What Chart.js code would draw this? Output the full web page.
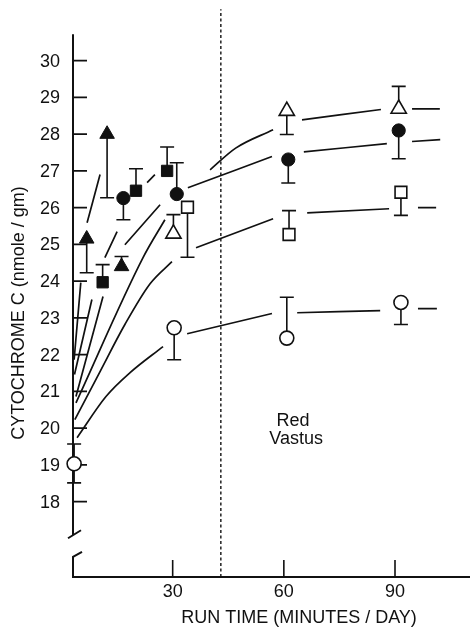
<!DOCTYPE html>
<html>
<head>
<meta charset="utf-8">
<script src="https://cdn.jsdelivr.net/npm/chart.js@4.4.1/dist/chart.umd.min.js"></script>
<style>
  html, body { margin: 0; padding: 0; background: #fff; }
  canvas { display: block; }
</style>
</head>
<body>
<canvas id="chart" width="470" height="631"></canvas>
<script>
// axis ticks
const yTicks = [18, 19, 20, 21, 22, 23, 24, 25, 26, 27, 28, 29, 30];
const xTicks = [30, 60, 90];
const dividerX = 43;

// measured points (minutes/day, nmole/gm) and error bar ends
const ftX = [6.8, 12.3, 16.2];            // filled triangles
const ftY = [25.15, 28.0, 24.4];
const ftLo = [24.23, 26.27, null];
const ftHi = [null, null, 24.67];

const fsX = [11.1, 20.1, 28.5];           // filled squares
const fsY = [23.97, 26.46, 27.0];
const fsLo = [null, null, null];
const fsHi = [24.45, 27.06, 27.65];

const fcX = [16.7, 31.1, 61.2, 91.0];     // filled circles
const fcY = [26.26, 26.37, 27.31, 28.10];
const fcLo = [25.67, null, 26.67, 27.33];
const fcHi = [null, 27.22, null, null];

const otX = [30.2, 60.8, 91.0];           // open triangles
const otY = [25.29, 28.63, 28.69];
const otLo = [null, 27.99, null];
const otHi = [25.81, null, 29.30];

const osX = [34.0, 61.4, 91.6];           // open squares
const osY = [26.01, 25.27, 26.42];
const osLo = [24.65, null, 25.79];
const osHi = [null, 25.92, null];

const ocX = [3.4, 30.4, 60.8, 91.6];      // open circles
const ocY = [19.03, 22.73, 22.45, 23.42];
const ocLo = [18.51, 21.86, null, 22.82];
const ocHi = [19.57, null, 23.56, null];

// fitted curves (null = gap round a symbol)
const ftCurveX = [3.4, 5.2, 6.0, 6.9, 10.4];
const ftCurveY = [21.86, 23.96, null, 25.59, 26.90];

const fsCurveX = [3.5, 8.2, 10.0, 11.7, 15.0, 19.0, 23.1, 25.2];
const fsCurveY = [21.46, 23.50, null, 24.64, 25.35, null, 26.68, 26.90];

const fcCurveX = [3.9, 11.2, 14.0, 17.1, 26.6, 31.0, 34.1, 56.8, 61.0, 65.4, 87.8, 91.0, 94.6, 102.2];
const fcCurveY = [20.86, 23.58, null, 24.99, 26.08, null, 26.54, 27.39, null, 27.52, 27.74, null, 27.80, 27.85];

const otCurveX = [3.9, 22.0, 27.9, 34.0, 40.1, 47.0, 57.1, 61.0, 64.9, 86.2, 91.0, 94.6, 102.1];
const otCurveY = [20.69, 24.64, 25.67, null, 27.03, 27.62, 28.12, null, 28.39, 28.67, null, 28.69, 28.69];

const osCurveX = [3.6, 10.4, 17.1, 23.9, 29.8, 33.0, 36.3, 57.1, 61.5, 66.3, 88.4, 92.0, 96.2, 101.1];
const osCurveY = [20.23, 21.54, 22.82, 23.93, 24.53, null, 24.91, 25.70, null, 25.86, 25.97, null, 26.0, 26.0];

const ocCurveX = [4.2, 12.0, 18.5, 27.4, 30.5, 33.9, 56.8, 60.0, 63.6, 86.0, 91.0, 96.2, 101.3];
const ocCurveY = [19.74, 20.86, 21.51, 22.22, null, 22.57, 23.12, null, 23.14, 23.20, null, 23.25, 23.25];

const ink = '#111';
const font = '18px "Liberation Sans", Arial, sans-serif';

const pts = (xs, ys) => xs.map((x, i) => ({x: x, y: ys[i]}));

const groups = [
  {x: ftX, y: ftY, lo: ftLo, hi: ftHi, style: 'triangle', r: 8.4, open: false},
  {x: fsX, y: fsY, lo: fsLo, hi: fsHi, style: 'rect', r: 8.0, open: false},
  {x: fcX, y: fcY, lo: fcLo, hi: fcHi, style: 'circle', r: 6.6, open: false},
  {x: otX, y: otY, lo: otLo, hi: otHi, style: 'triangle', r: 8.8, open: true},
  {x: osX, y: osY, lo: osLo, hi: osHi, style: 'rect', r: 8.3, open: true},
  {x: ocX, y: ocY, lo: ocLo, hi: ocHi, style: 'circle', r: 7.0, open: true},
];

const curves = [
  [ftCurveX, ftCurveY], [fsCurveX, fsCurveY], [fcCurveX, fcCurveY],
  [otCurveX, otCurveY], [osCurveX, osCurveY], [ocCurveX, ocCurveY],
];

const markerSets = groups.map(g => ({
  data: pts(g.x, g.y),
  showLine: false,
  clip: false,
  pointStyle: g.style,
  pointRadius: g.r,
  pointBackgroundColor: g.open ? '#fff' : ink,
  pointBorderColor: ink,
  pointBorderWidth: g.open ? 1.6 : 1,
}));

const curveSets = curves.map(c => ({
  data: pts(c[0], c[1]),
  showLine: true,
  spanGaps: false,
  pointRadius: 0,
  borderColor: ink,
  borderWidth: 1.7,
  cubicInterpolationMode: 'monotone',
}));

const dividerSet = {
  data: [{x: dividerX, y: 15.95}, {x: dividerX, y: 31.4}],
  showLine: true,
  pointRadius: 0,
  borderColor: ink,
  borderWidth: 1.4,
  borderDash: [3, 2.5],
  clip: false,
};

// axes with inward ticks and a break in the y axis, plus titles
const frame = {
  id: 'frame',
  beforeDatasetsDraw(chart) {
    const {ctx, chartArea: a, scales: {x, y}} = chart;
    ctx.save();
    ctx.strokeStyle = ink;
    ctx.fillStyle = ink;
    ctx.lineCap = 'butt';

    const yTop = y.getPixelForValue(30.72);
    const yb1 = y.getPixelForValue(17.1);
    const yb2 = y.getPixelForValue(16.55);
    ctx.lineWidth = 2;
    ctx.beginPath();
    ctx.moveTo(a.left, yTop);
    ctx.lineTo(a.left, yb1);
    ctx.moveTo(a.left - 5, yb1 + 3.5);
    ctx.lineTo(a.left + 8, yb1 - 4.5);
    ctx.moveTo(a.left + 9, yb2 - 3);
    ctx.lineTo(a.left, yb2 + 2);
    ctx.lineTo(a.left, a.bottom);
    ctx.lineTo(a.right, a.bottom);
    ctx.stroke();

    ctx.lineWidth = 1.6;
    ctx.beginPath();
    yTicks.forEach(v => {
      const py = y.getPixelForValue(v);
      ctx.moveTo(a.left, py);
      ctx.lineTo(a.left + 14, py);
    });
    xTicks.forEach(v => {
      const px = x.getPixelForValue(v);
      ctx.moveTo(px, a.bottom);
      ctx.lineTo(px, a.bottom - 17);
    });
    ctx.stroke();

    ctx.font = font;
    ctx.textBaseline = 'middle';
    ctx.textAlign = 'right';
    yTicks.forEach(v => ctx.fillText(String(v), a.left - 13, y.getPixelForValue(v) + 1));
    ctx.textAlign = 'center';
    xTicks.forEach(v => ctx.fillText(String(v), x.getPixelForValue(v), a.bottom + 15));

    ctx.fillText('RUN TIME (MINUTES / DAY)', 299, 618);
    ctx.fillText('Red', x.getPixelForValue(62.5), y.getPixelForValue(20.2));
    ctx.fillText('Vastus', x.getPixelForValue(62.5) + 3, y.getPixelForValue(20.2) + 18.5);

    ctx.translate(19, 313);
    ctx.rotate(-Math.PI / 2);
    ctx.fillText('CYTOCHROME C (nmole / gm)', 0, 0);
    ctx.restore();
  }
};

// one-sided (and one two-sided) error bars with caps
const errorBars = {
  id: 'errorBars',
  beforeDatasetsDraw(chart) {
    const {ctx, scales: {x, y}} = chart;
    ctx.save();
    ctx.strokeStyle = ink;
    ctx.lineWidth = 1.6;
    groups.forEach(g => {
      g.x.forEach((xv, i) => {
        const px = x.getPixelForValue(xv);
        const py = y.getPixelForValue(g.y[i]);
        [g.lo[i], g.hi[i]].forEach(end => {
          if (end == null) return;
          const pe = y.getPixelForValue(end);
          ctx.beginPath();
          ctx.moveTo(px, py);
          ctx.lineTo(px, pe);
          ctx.moveTo(px - 7, pe);
          ctx.lineTo(px + 7, pe);
          ctx.stroke();
        });
      });
    });
    ctx.restore();
  }
};

new Chart(document.getElementById('chart').getContext('2d'), {
  type: 'scatter',
  data: {datasets: [...markerSets, ...curveSets, dividerSet]},
  options: {
    responsive: false,
    animation: false,
    layout: {autoPadding: false, padding: {left: 73, top: 0, right: 0, bottom: 54}},
    scales: {
      x: {type: 'linear', display: false, min: 3.1, max: 110.24},
      y: {type: 'linear', display: false, min: 15.95, max: 31.65},
    },
    plugins: {legend: {display: false}, tooltip: {enabled: false}},
  },
  plugins: [frame, errorBars],
});
</script>
</body>
</html>
